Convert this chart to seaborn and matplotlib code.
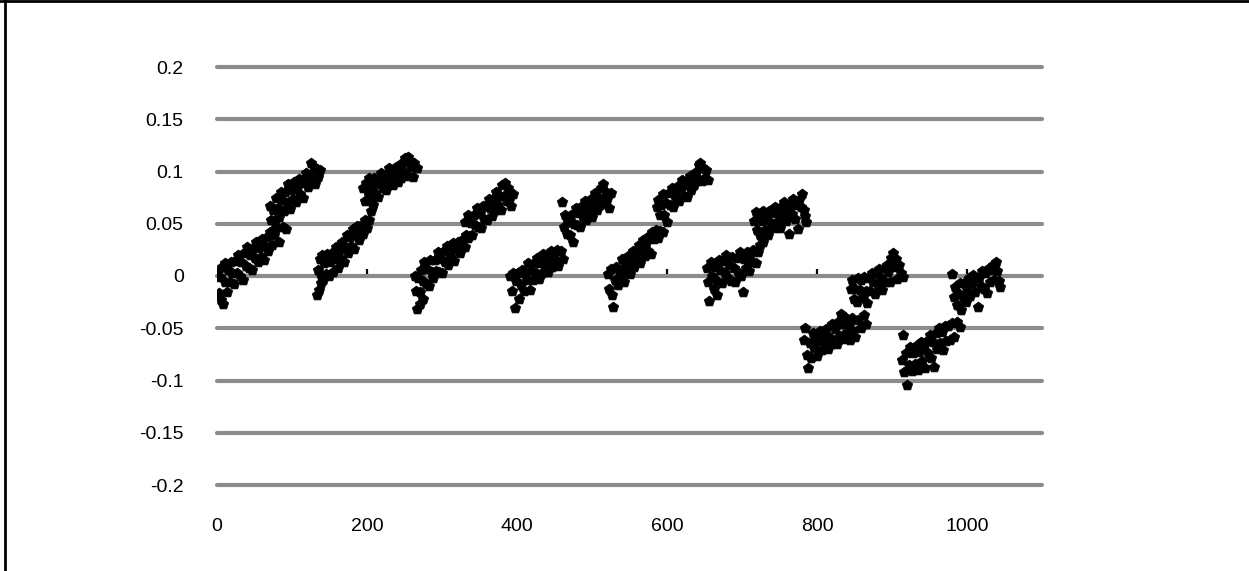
import pandas as pd
import matplotlib.pyplot as plt
import seaborn as sns
from matplotlib.lines import Line2D

# (x, y) points, one list per cluster: lower run then upper run
c1 = [(1, 0.004), (2, -0.016), (4, -0.001), (5, -0.023), (7, 0.009), (8, -0.027), (10, -0.006), (11, 0.012),
      (13, -0.015), (15, 0.006), (17, -0.006), (18, 0.013), (20, 0.003), (22, -0.008), (24, 0.014), (26, 0.003),
      (28, 0.020), (30, 0.000), (32, 0.013), (34, -0.004), (36, 0.022), (38, 0.010), (40, 0.028), (42, 0.008),
      (44, 0.020), (46, 0.006), (48, 0.027), (50, 0.017), (52, 0.033), (54, 0.013), (56, 0.027), (58, 0.018),
      (60, 0.035), (62, 0.015), (64, 0.029), (66, 0.037), (68, 0.024), (70, 0.042), (73, 0.030), (76, 0.039),
      (79, 0.046), (83, 0.033), (88, 0.047), (92, 0.045),
      (70, 0.067), (72, 0.054), (74, 0.063), (77, 0.053), (79, 0.075), (81, 0.065), (83, 0.056), (85, 0.080),
      (87, 0.073), (89, 0.062), (91, 0.080), (93, 0.070), (95, 0.088), (97, 0.064), (99, 0.082), (101, 0.074),
      (103, 0.090), (105, 0.071), (107, 0.084), (109, 0.093), (111, 0.078), (113, 0.092), (115, 0.075),
      (117, 0.089), (119, 0.099), (121, 0.085), (123, 0.097), (125, 0.108), (127, 0.091), (129, 0.104),
      (131, 0.088), (133, 0.102), (135, 0.095), (137, 0.101)]

c2 = [(133, -0.018), (136, -0.013), (139, -0.007), (135, 0.006), (137, 0.016), (138, 0.001), (140, 0.020),
      (141, -0.004), (143, 0.012), (145, 0.002), (147, 0.021), (149, 0.000), (151, 0.013), (153, 0.022),
      (155, 0.004), (157, 0.016), (159, 0.028), (161, 0.008), (163, 0.024), (165, 0.016), (167, 0.033),
      (169, 0.013), (171, 0.028), (173, 0.039), (175, 0.022), (177, 0.037), (179, 0.029), (181, 0.045),
      (183, 0.026), (185, 0.040), (187, 0.048), (189, 0.034), (191, 0.048), (194, 0.040), (197, 0.054),
      (200, 0.046), (203, 0.054), (205, 0.062), (208, 0.068),
      (195, 0.084), (197, 0.072), (199, 0.089), (201, 0.080), (203, 0.094), (205, 0.076), (207, 0.087),
      (209, 0.094), (211, 0.079), (213, 0.091), (215, 0.076), (217, 0.088), (219, 0.099), (221, 0.084),
      (223, 0.096), (225, 0.082), (227, 0.094), (229, 0.103), (231, 0.089), (233, 0.100), (235, 0.087),
      (237, 0.097), (239, 0.104), (241, 0.090), (243, 0.102), (245, 0.094), (247, 0.108), (249, 0.100),
      (251, 0.113), (254, 0.114), (255, 0.096), (257, 0.110), (259, 0.104), (261, 0.095), (263, 0.108),
      (266, 0.103)]

c3 = [(267, -0.032), (271, -0.027), (275, -0.022), (264, 0.000), (265, -0.014), (268, -0.002), (270, -0.015),
      (272, 0.006), (274, -0.005), (276, 0.013), (278, -0.008), (280, 0.007), (282, -0.010), (284, 0.015),
      (286, 0.004), (288, -0.002), (290, 0.015), (292, 0.005), (294, 0.023), (296, 0.004), (298, 0.016),
      (300, 0.003), (302, 0.024), (304, 0.013), (306, 0.029), (308, 0.011), (310, 0.023), (312, 0.018),
      (314, 0.032), (316, 0.014), (318, 0.026), (321, 0.033), (324, 0.022), (327, 0.034), (330, 0.028),
      (334, 0.036),
      (330, 0.052), (332, 0.039), (334, 0.058), (336, 0.038), (338, 0.051), (340, 0.039), (342, 0.058),
      (344, 0.049), (346, 0.065), (348, 0.047), (350, 0.060), (352, 0.046), (354, 0.067), (356, 0.055),
      (358, 0.067), (360, 0.054), (362, 0.074), (364, 0.065), (366, 0.057), (368, 0.074), (370, 0.063),
      (372, 0.080), (374, 0.068), (376, 0.077), (378, 0.063), (380, 0.087), (382, 0.077), (384, 0.089),
      (386, 0.072), (388, 0.084), (390, 0.076), (392, 0.067), (394, 0.078)]

c4 = [(391, 0.000), (393, -0.014), (395, 0.003), (397, -0.031), (399, -0.005), (401, 0.003), (403, -0.022),
      (405, -0.009), (407, 0.006), (409, -0.014), (411, 0.003), (413, -0.004), (415, 0.012), (417, -0.013),
      (419, 0.005), (421, -0.004), (423, 0.012), (425, 0.003), (427, 0.017), (429, -0.003), (431, 0.012),
      (433, 0.003), (435, 0.021), (437, 0.009), (439, 0.018), (441, 0.004), (443, 0.015), (445, 0.024),
      (447, 0.009), (449, 0.020), (451, 0.013), (453, 0.025), (455, 0.010), (458, 0.024), (461, 0.016),
      (460, 0.071), (462, 0.047), (464, 0.058), (466, 0.040), (468, 0.052), (470, 0.039), (472, 0.058),
      (474, 0.033), (476, 0.050), (478, 0.065), (480, 0.049), (482, 0.060), (484, 0.047), (486, 0.067),
      (488, 0.056), (490, 0.072), (492, 0.054), (494, 0.067), (496, 0.061), (498, 0.074), (500, 0.056),
      (502, 0.069), (504, 0.079), (506, 0.063), (508, 0.076), (510, 0.068), (512, 0.084), (514, 0.088),
      (516, 0.070), (518, 0.080), (520, 0.074), (522, 0.065), (525, 0.079)]

c5 = [(521, 0.002), (523, -0.012), (525, 0.007), (527, -0.018), (528, -0.030), (530, -0.004), (532, 0.009),
      (534, -0.009), (536, 0.006), (538, -0.001), (540, 0.016), (542, -0.006), (544, 0.012), (546, 0.006),
      (548, 0.019), (550, 0.002), (552, 0.015), (554, 0.024), (556, 0.009), (558, 0.022), (560, 0.015),
      (562, 0.030), (564, 0.012), (566, 0.024), (568, 0.034), (570, 0.019), (572, 0.032), (574, 0.024),
      (576, 0.038), (578, 0.021), (580, 0.042), (582, 0.035), (585, 0.044), (588, 0.036), (591, 0.043),
      (595, 0.042),
      (586, 0.066), (588, 0.073), (590, 0.058), (592, 0.068), (594, 0.078), (596, 0.058), (598, 0.070),
      (600, 0.052), (602, 0.079), (604, 0.068), (606, 0.084), (608, 0.066), (610, 0.078), (612, 0.074),
      (614, 0.086), (616, 0.072), (618, 0.084), (620, 0.092), (622, 0.077), (624, 0.090), (626, 0.076),
      (628, 0.088), (630, 0.096), (632, 0.082), (634, 0.094), (636, 0.087), (638, 0.100), (640, 0.094),
      (642, 0.106), (644, 0.108), (646, 0.091), (648, 0.103), (650, 0.094), (652, 0.101), (655, 0.092)]

c6 = [(653, 0.008), (655, -0.006), (656, -0.024), (658, 0.013), (660, 0.000), (662, -0.012), (664, 0.009),
      (666, -0.005), (667, -0.018), (669, 0.015), (671, 0.006), (673, -0.007), (675, 0.014), (677, 0.003),
      (679, 0.020), (681, -0.002), (683, 0.011), (685, -0.005), (687, 0.018), (689, 0.008), (691, -0.006),
      (693, 0.017), (695, 0.004), (697, 0.023), (699, 0.000), (701, -0.015), (703, 0.016), (705, 0.008),
      (707, 0.023), (709, 0.005), (711, 0.020), (713, 0.013), (715, 0.025), (718, 0.012), (721, 0.023),
      (724, 0.030), (728, 0.033),
      (716, 0.053), (718, 0.061), (720, 0.044), (722, 0.057), (724, 0.039), (726, 0.053), (728, 0.062),
      (730, 0.044), (732, 0.057), (734, 0.039), (736, 0.062), (738, 0.051), (740, 0.060), (742, 0.046),
      (744, 0.066), (746, 0.052), (748, 0.060), (750, 0.046), (752, 0.066), (754, 0.056), (756, 0.071),
      (758, 0.053), (760, 0.063), (762, 0.040), (764, 0.068), (766, 0.059), (768, 0.074), (770, 0.055),
      (772, 0.068), (774, 0.045), (776, 0.073), (778, 0.066), (780, 0.078), (782, 0.063), (784, 0.057),
      (785, 0.052)]

c7 = [(783, -0.061), (784, -0.050), (786, -0.076), (788, -0.088), (790, -0.064), (792, -0.078), (794, -0.055),
      (796, -0.069), (798, -0.059), (800, -0.077), (802, -0.062), (804, -0.053), (806, -0.071), (808, -0.057),
      (810, -0.065), (812, -0.051), (814, -0.070), (816, -0.058), (818, -0.065), (820, -0.046), (822, -0.062),
      (824, -0.051), (826, -0.065), (828, -0.044), (830, -0.057), (832, -0.036), (834, -0.046), (836, -0.060),
      (838, -0.040), (840, -0.054), (842, -0.047), (844, -0.061), (846, -0.040), (848, -0.053), (851, -0.058),
      (854, -0.042), (858, -0.050), (862, -0.037), (865, -0.046),
      (845, -0.012), (847, -0.004), (849, -0.022), (851, -0.012), (853, -0.025), (855, -0.002), (857, -0.013),
      (859, -0.004), (861, -0.020), (863, -0.001), (865, -0.014), (867, -0.026), (869, -0.002), (871, -0.014),
      (873, 0.003), (875, -0.006), (877, -0.017), (879, 0.003), (881, -0.009), (883, 0.007), (885, -0.002),
      (887, -0.013), (889, 0.008), (891, -0.006), (893, 0.011), (895, 0.004), (897, -0.006), (899, 0.017),
      (901, 0.022), (903, 0.009), (905, 0.016), (907, -0.003), (909, 0.011), (912, 0.003), (915, -0.001)]

c8 = [(913, -0.080), (915, -0.056), (916, -0.092), (918, -0.074), (920, -0.104), (922, -0.085), (924, -0.068),
      (926, -0.091), (928, -0.074), (930, -0.084), (932, -0.067), (934, -0.090), (936, -0.073), (938, -0.063),
      (940, -0.081), (942, -0.067), (944, -0.088), (946, -0.062), (948, -0.074), (950, -0.056), (952, -0.078),
      (954, -0.063), (956, -0.087), (958, -0.055), (960, -0.070), (962, -0.050), (964, -0.064), (966, -0.054),
      (968, -0.071), (970, -0.048), (972, -0.062), (974, -0.048), (977, -0.061), (980, -0.045), (983, -0.058),
      (986, -0.044), (990, -0.049),
      (980, 0.002), (982, -0.020), (984, -0.011), (986, -0.028), (988, -0.016), (990, -0.007), (992, -0.033),
      (994, -0.020), (996, -0.007), (998, -0.025), (1000, -0.012), (1002, -0.002), (1004, -0.019),
      (1006, -0.007), (1008, 0.001), (1010, -0.015), (1012, -0.002), (1014, -0.030), (1016, -0.002),
      (1018, -0.010), (1020, 0.005), (1022, -0.012), (1024, 0.003), (1026, -0.016), (1028, 0.007),
      (1030, -0.006), (1032, 0.006), (1034, 0.011), (1036, -0.004), (1038, 0.013), (1040, 0.005),
      (1042, -0.005), (1044, -0.011)]

y_ticks = [-0.2, -0.15, -0.1, -0.05, 0, 0.05, 0.1, 0.15, 0.2]
y_labels = ['-0.2', '-0.15', '-0.1', '-0.05', '0', '0.05', '0.1', '0.15', '0.2']
x_ticks = [0, 200, 400, 600, 800, 1000]

df = pd.DataFrame(c1 + c2 + c3 + c4 + c5 + c6 + c7 + c8, columns=['x', 'y'])

sns.set_style('white')
plt.rcParams['font.family'] = ['Liberation Sans', 'DejaVu Sans']

fig = plt.figure(figsize=(12.49, 5.71), dpi=100)
ax = fig.add_axes([217 / 1249, 1 - 485 / 571, 825 / 1249, 418 / 571])

sns.scatterplot(data=df, x='x', y='y', ax=ax, color='black', marker='p', s=62,
                linewidth=0.5, edgecolor='black', legend=False, zorder=3)

ax.set_xlim(0, 1100)
ax.set_ylim(-0.2, 0.2)
ax.set_yticks(y_ticks)
ax.set_yticklabels(y_labels)
ax.set_xticks(x_ticks)
ax.set_xlabel('')
ax.set_ylabel('')
ax.tick_params(axis='both', length=0, labelsize=14, colors='black')
ax.tick_params(axis='y', pad=24)
ax.tick_params(axis='x', pad=24)
ax.grid(False)
ax.yaxis.grid(True, color='#8c8c8c', linewidth=3, zorder=1)
ax.set_axisbelow(True)
for gl in ax.get_ygridlines():
    gl.set_clip_on(False)
for s in ax.spines.values():
    s.set_visible(False)

# small tick marks sitting on the zero line
sec = ax.secondary_xaxis(0.5)
sec.set_xticks([200, 400, 600, 800, 1000])
sec.set_xticklabels([])
sec.tick_params(direction='out', length=5, width=1.6, color='black')
sec.spines['bottom'].set_visible(False)

# outer frame (top and left edges visible)
fig.add_artist(Line2D([5 / 1249, 5 / 1249], [0, 1], transform=fig.transFigure, color='black', linewidth=2))
fig.add_artist(Line2D([0, 1], [1 - 1 / 571, 1 - 1 / 571], transform=fig.transFigure, color='black', linewidth=2))

fig.savefig('out.png', dpi=100, facecolor='white')
